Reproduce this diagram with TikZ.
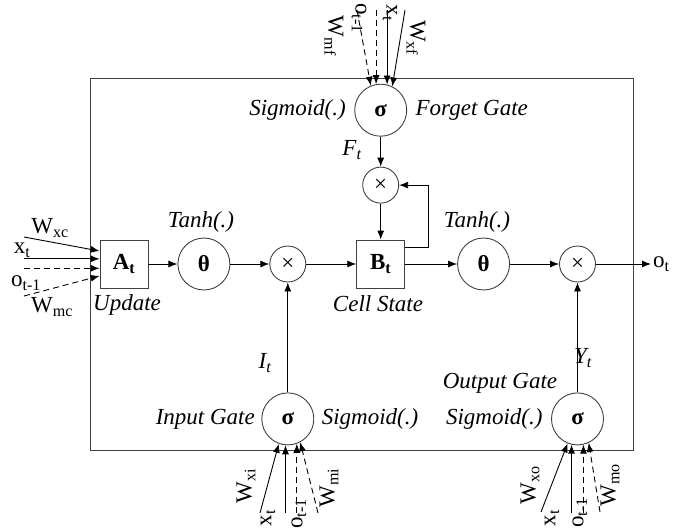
\documentclass[tikz,border=0pt]{standalone}
\usepackage{fontspec}
\setmainfont{Liberation Serif}
\usetikzlibrary{positioning,arrows.meta}

\begin{document}
\begin{tikzpicture}[
  x=1pt, y=-1pt,
  >={Latex[length=9pt,width=7pt]},
  every node/.style={font=\fontsize{23}{27}\selectfont},
  unit/.style={draw=black!75,line width=0.9pt,minimum size=48pt,inner sep=0pt},
  gate/.style={circle,draw=black!75,line width=0.9pt,minimum size=52pt,inner sep=0pt},
  mult/.style={circle,draw=black!75,line width=0.9pt,minimum size=36pt,inner sep=0pt},
  arrow/.style={->,line width=0.9pt},
  feed/.style={->,line width=0.9pt},
  dfeed/.style={->,line width=0.9pt,dash pattern=on 6pt off 4pt},
  tag/.style={font=\fontsize{23}{27}\selectfont\itshape},
  wlbl/.style={inner sep=1pt}
]
\useasboundingbox (0,0) rectangle (674,531);

% cell frame
\draw[black!75,line width=0.9pt] (90,78) rectangle (633,450);

% main row
\node[unit] (upd) at (124,264) {\textbf{A\textsubscript{t}}};
\node[gate,right=29pt of upd] (th1) {\textbf{θ}};
\node[mult,right=39pt of th1] (x1) {×};
\node[unit,right=50pt of x1] (cell) {\textbf{B\textsubscript{t}}};
\node[gate,right=52pt of cell] (th2) {\textbf{θ}};
\node[mult,right=49pt of th2] (x2) {×};
\coordinate (out) at (651,264);
\node[anchor=west,inner sep=2pt] (olbl) at (out) {o\textsubscript{t}};

% gates
\node[mult,above=36pt of cell] (fx) {×};
\node[gate,above=30pt of fx] (fsig) {\textbf{σ}};
\node[gate,below=110pt of x1] (isig) {\textbf{σ}};
\node[gate,below=110pt of x2] (osig) {\textbf{σ}};

% labels
\node[tag] (tanh1) at (201,222) {Tanh(.)};
\node[tag] (tanh2) at (477,222) {Tanh(.)};
\node[tag] (updlbl) at (127,305) {Update};
\node[tag] (celllbl) at (378,304) {Cell State};
\node[tag,left=5pt of fsig] (fsiglbl) {Sigmoid(.)};
\node[tag,right=5pt of fsig] (fgate) {Forget Gate};
\node[tag,left=3pt of isig] (igate) {Input Gate};
\node[tag,right=4pt of isig] (isiglbl) {Sigmoid(.)};
\node[tag,left=5pt of osig] (osiglbl) {Sigmoid(.)};
\node[tag] (ogate) at (500,383) {Output Gate};
\node[tag] (flbl) at (352,150) {F\textsubscript{t}};
\node[tag] (ilbl) at (265,363) {I\textsubscript{t}};
\node[tag] (ylbl) at (583,358) {Y\textsubscript{t}};

% connectors
\draw[arrow] (upd) -- (th1);
\draw[arrow] (th1) -- (x1);
\draw[arrow] (x1) -- (cell);
\draw[arrow] (cell) -- (th2);
\draw[arrow] (th2) -- (x2);
\draw[arrow] (x2) -- (out);
\draw[arrow] (fsig) -- (fx);
\draw[arrow] (fx) -- (cell);
\draw[arrow] ([yshift=17pt]cell.east) -- ++(23,0) |- (fx);
\draw[arrow] (isig) -- (x1);
\draw[arrow] (osig) -- (x2);

% inputs, left
\coordinate (leftin) at (24,0);
\coordinate (wxc) at (24,237);
\coordinate (wmc) at (24,296);
\draw[feed] (wxc) -- (upd.152);
\draw[feed] (leftin |- upd.168) -- (upd.168);
\draw[dfeed] (leftin |- upd.190) -- (upd.190);
\draw[dfeed] (wmc) -- (upd.206);
\node[wlbl] (lwxc) at (50,228) {W\textsubscript{xc}};
\node[wlbl] (lxc) at (22,250) {x\textsubscript{t}};
\node[wlbl] (loc) at (26,283) {o\textsubscript{t-1}};
\node[wlbl] (lwmc) at (52,307) {W\textsubscript{mc}};

% inputs, top
\coordinate (topin) at (0,10);
\coordinate (wmf) at (357,10);
\coordinate (wxf) at (405,10);
\draw[dfeed] (wmf) -- (fsig.112);
\draw[dfeed] (fsig.100 |- topin) -- (fsig.100);
\draw[feed] (fsig.76 |- topin) -- (fsig.76);
\draw[feed] (wxf) -- (fsig.64);
\node[wlbl,rotate=-90] (lwmf) at (334,36) {W\textsubscript{mf}};
\node[wlbl,rotate=-90] (lof) at (359,18) {o\textsubscript{t-1}};
\node[wlbl,rotate=-90] (lxf) at (390,13) {x\textsubscript{t}};
\node[wlbl,rotate=-90] (lwxf) at (416,38) {W\textsubscript{xf}};

% inputs, bottom
\coordinate (botin) at (0,513);
\coordinate (wxi) at (260,513);
\coordinate (wmi) at (318,513);
\draw[feed] (wxi) -- (isig.250);
\draw[feed] (isig.265 |- botin) -- (isig.265);
\draw[dfeed] (isig.290 |- botin) -- (isig.290);
\draw[dfeed] (wmi) -- (isig.298);
\node[wlbl,rotate=90] (lwxi) at (246,486) {W\textsubscript{xi}};
\node[wlbl,rotate=90] (lxi) at (268,518) {x\textsubscript{t}};
\node[wlbl,rotate=90] (loi) at (299,514) {o\textsubscript{t-1}};
\node[wlbl,rotate=90] (lwmi) at (329,488) {W\textsubscript{mi}};

\coordinate (wxo) at (541,512);
\coordinate (wmo) at (600,512);
\draw[feed] (wxo) -- (osig.248);
\draw[feed] (osig.257 |- botin) -- (osig.257);
\draw[dfeed] (osig.283 |- botin) -- (osig.283);
\draw[dfeed] (wmo) -- (osig.295);
\node[wlbl,rotate=90] (lwxo) at (530,485) {W\textsubscript{xo}};
\node[wlbl,rotate=90] (lxo) at (552,518) {x\textsubscript{t}};
\node[wlbl,rotate=90] (loo) at (580,513) {o\textsubscript{t-1}};
\node[wlbl,rotate=90] (lwmo) at (610,485) {W\textsubscript{mo}};
\end{tikzpicture}
\end{document}
